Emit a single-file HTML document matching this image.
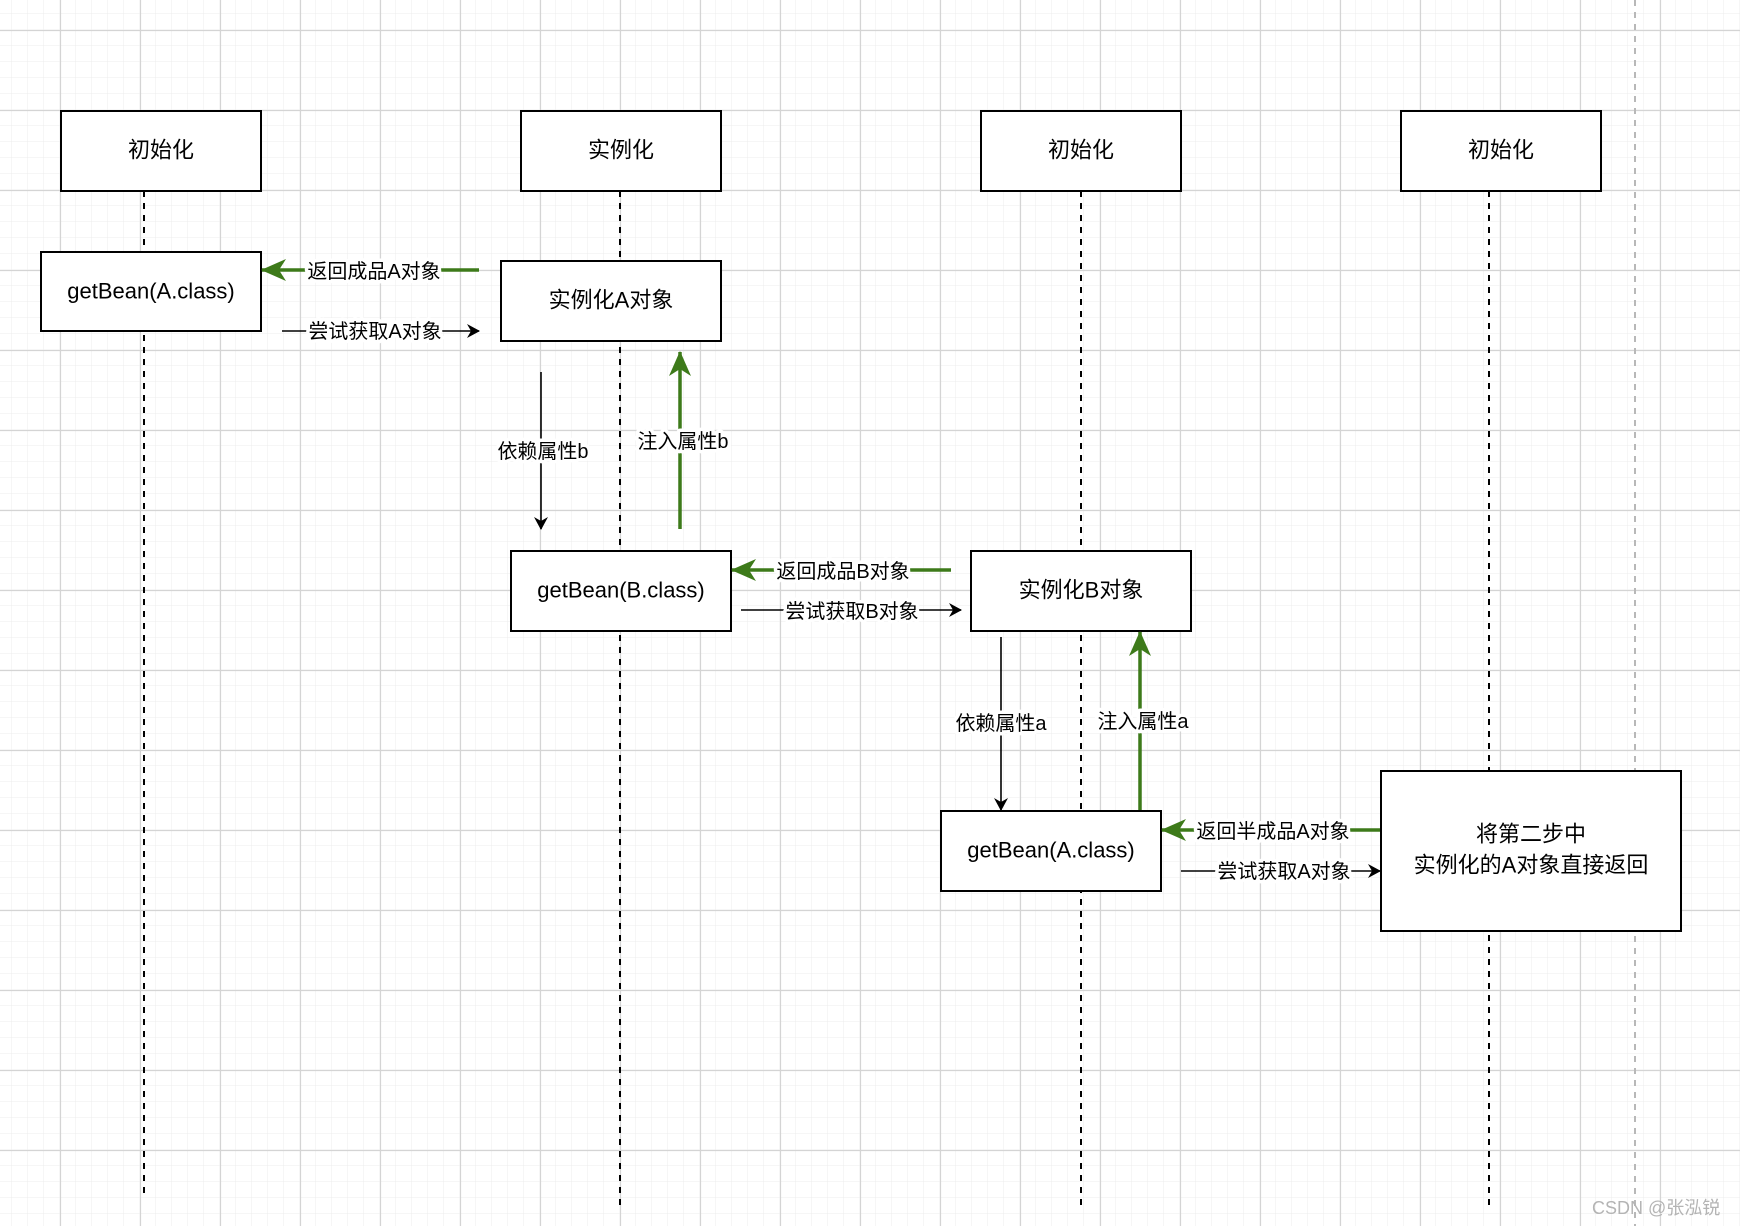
<!DOCTYPE html>
<html><head><meta charset="utf-8"><style>
html,body{margin:0;padding:0;background:#fff}
svg{display:block}
text{font-family:"Liberation Sans","Noto Sans CJK SC",sans-serif;fill:#000}
.bt{font-size:22px;text-anchor:middle;dominant-baseline:central}
.lb{font-size:20px;text-anchor:middle;dominant-baseline:central;paint-order:stroke;stroke:#fff;stroke-width:7px;stroke-linejoin:round}
.box{fill:#fff;stroke:#000;stroke-width:2}
.life{stroke:#000;stroke-width:2;stroke-dasharray:6,6}
.g{stroke:#3d7a1a;stroke-width:3.5;fill:none}
.k{stroke:#000;stroke-width:1.6;fill:none}
</style></head><body>
<svg width="1740" height="1226" viewBox="0 0 1740 1226" xmlns="http://www.w3.org/2000/svg">
<defs>
<pattern id="minor" width="16" height="16" patternUnits="userSpaceOnUse" patternTransform="translate(12,14)">
<path d="M16 0V16M0 16H16" stroke="#ececec" stroke-width="1" fill="none"/>
</pattern>
<pattern id="major" width="80" height="80" patternUnits="userSpaceOnUse" patternTransform="translate(60,30)">
<path d="M0.5 0V80M0 0.5H80" stroke="#d4d4d4" stroke-width="1.2" fill="none"/>
</pattern>
<marker id="ak" markerWidth="14" markerHeight="14" refX="12" refY="7" orient="auto" markerUnits="userSpaceOnUse">
<path d="M0,0 L13,7 L0,14 L4,7 Z" fill="#000"/></marker>
<marker id="ag" markerWidth="26" markerHeight="22" refX="24" refY="11" orient="auto" markerUnits="userSpaceOnUse">
<path d="M0,0 L25,11 L0,22 L7,11 Z" fill="#3d7a1a"/></marker>
</defs>
<rect width="1740" height="1226" fill="url(#minor)"/>
<rect width="1740" height="1226" fill="url(#major)"/>
<line x1="1635" y1="0" x2="1635" y2="1226" stroke="#b8b8b8" stroke-width="2" stroke-dasharray="6,6"/>

<!-- lifelines -->
<line class="life" x1="144" y1="191" x2="144" y2="1193"/>
<line class="life" x1="620" y1="191" x2="620" y2="1210"/>
<line class="life" x1="1081" y1="191" x2="1081" y2="1210"/>
<line class="life" x1="1489" y1="191" x2="1489" y2="1210"/>

<!-- header boxes -->
<rect class="box" x="61" y="111" width="200" height="80"/><text class="bt" x="161" y="150">初始化</text>
<rect class="box" x="521" y="111" width="200" height="80"/><text class="bt" x="621" y="150">实例化</text>
<rect class="box" x="981" y="111" width="200" height="80"/><text class="bt" x="1081" y="150">初始化</text>
<rect class="box" x="1401" y="111" width="200" height="80"/><text class="bt" x="1501" y="150">初始化</text>

<!-- row 1 -->
<rect class="box" x="41" y="252" width="220" height="79"/><text class="bt" x="151" y="291">getBean(A.class)</text>
<rect class="box" x="501" y="261" width="220" height="80"/><text class="bt" x="611" y="300">实例化A对象</text>
<line class="g" x1="479" y1="270" x2="262" y2="270" marker-end="url(#ag)"/>
<text class="lb" x="374" y="272">返回成品A对象</text>
<line class="k" x1="282" y1="331" x2="479" y2="331" marker-end="url(#ak)"/>
<text class="lb" x="375" y="332">尝试获取A对象</text>

<line class="k" x1="541" y1="372" x2="541" y2="529" marker-end="url(#ak)"/>
<text class="lb" x="543" y="452">依赖属性b</text>
<line class="g" x1="680" y1="529" x2="680" y2="352" marker-end="url(#ag)"/>
<text class="lb" x="683" y="442">注入属性b</text>

<!-- row 2 -->
<rect class="box" x="511" y="551" width="220" height="80"/><text class="bt" x="621" y="590">getBean(B.class)</text>
<rect class="box" x="971" y="551" width="220" height="80"/><text class="bt" x="1081" y="590">实例化B对象</text>
<line class="g" x1="951" y1="570" x2="732" y2="570" marker-end="url(#ag)"/>
<text class="lb" x="843" y="572">返回成品B对象</text>
<line class="k" x1="741" y1="610" x2="961" y2="610" marker-end="url(#ak)"/>
<text class="lb" x="852" y="612">尝试获取B对象</text>

<line class="k" x1="1001" y1="637" x2="1001" y2="810" marker-end="url(#ak)"/>
<text class="lb" x="1001" y="724">依赖属性a</text>
<line class="g" x1="1140" y1="810" x2="1140" y2="632" marker-end="url(#ag)"/>
<text class="lb" x="1143" y="722">注入属性a</text>

<!-- row 3 -->
<rect class="box" x="941" y="811" width="220" height="80"/><text class="bt" x="1051" y="850">getBean(A.class)</text>
<rect class="box" x="1381" y="771" width="300" height="160"/>
<text class="bt" x="1531" y="834">将第二步中</text>
<text class="bt" x="1531" y="865">实例化的A对象直接返回</text>
<line class="g" x1="1380" y1="830" x2="1162" y2="830" marker-end="url(#ag)"/>
<text class="lb" x="1273" y="832">返回半成品A对象</text>
<line class="k" x1="1181" y1="871" x2="1380" y2="871" marker-end="url(#ak)"/>
<text class="lb" x="1284" y="872">尝试获取A对象</text>

<text x="1592" y="1214" style="font-size:18px;fill:#b4b4b4">CSDN @张泓锐</text>
</svg>
</body></html>
